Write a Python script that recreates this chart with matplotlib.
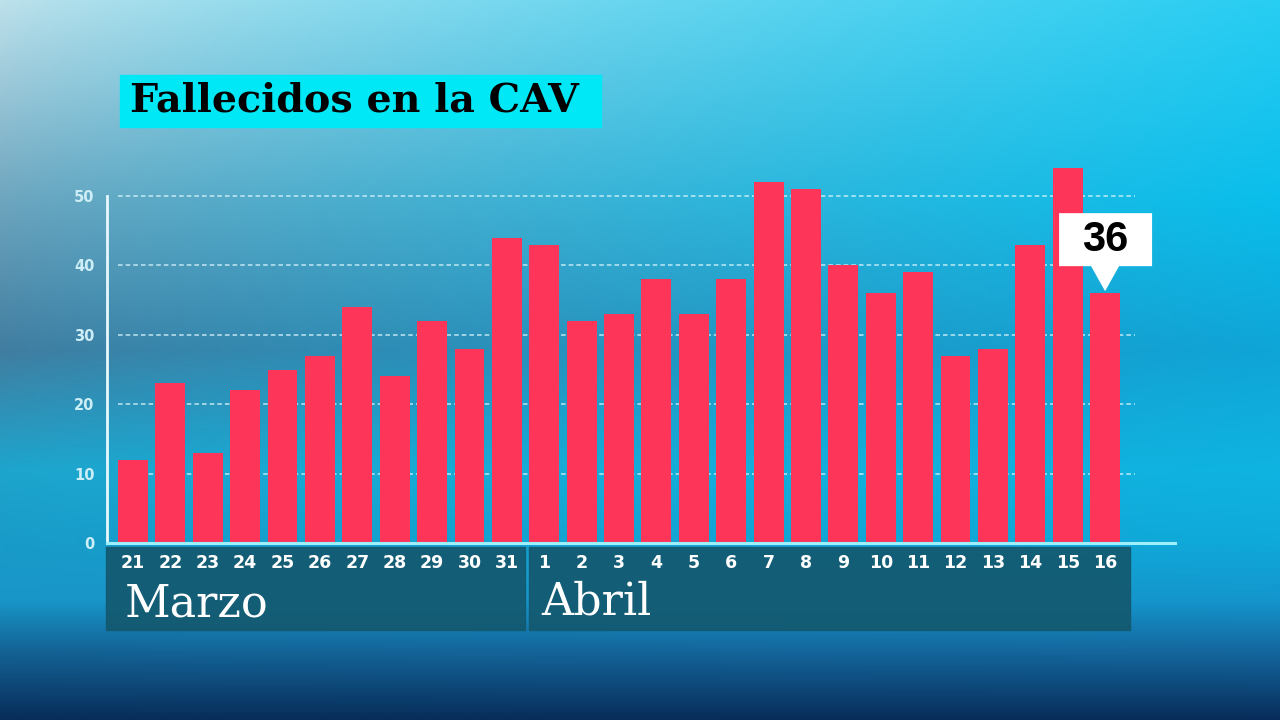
import numpy as np
import matplotlib
matplotlib.use("Agg")
import matplotlib.pyplot as plt
from matplotlib.patches import Rectangle, Polygon
from matplotlib.transforms import ScaledTranslation

# ---- data ----
days = ["21", "22", "23", "24", "25", "26", "27", "28", "29", "30", "31",
        "1", "2", "3", "4", "5", "6", "7", "8", "9", "10", "11", "12", "13", "14", "15", "16"]
deaths = [12, 23, 13, 22, 25, 27, 34, 24, 32, 28, 44,
          43, 32, 33, 38, 33, 38, 52, 51, 40, 36, 39, 27, 28, 43, 54, 36]
yticks = [0, 10, 20, 30, 40, 50]
months = ["Marzo", "Abril"]
title = "Fallecidos en la CAV"

W, H = 1280, 720
fig = plt.figure(figsize=(12.8, 7.2), dpi=100)

# ---- background gradient ----
bg = fig.add_axes([0, 0, 1, 1], zorder=-10)
ys = np.array([0, 200, 350, 470, 540, 600, 650, 720]) / 720
left = np.array([(190, 225, 235), (110, 165, 190), (65, 125, 160), (30, 165, 205),
                 (25, 155, 200), (25, 150, 200), (20, 100, 150), (8, 45, 90)]) / 255
right = np.array([(40, 205, 242), (10, 190, 235), (15, 165, 215), (15, 180, 225),
                  (15, 170, 218), (20, 150, 205), (20, 105, 160), (8, 45, 90)]) / 255
yy = np.linspace(0, 1, 360)
L = np.stack([np.interp(yy, ys, left[:, c]) for c in range(3)], axis=-1)
R = np.stack([np.interp(yy, ys, right[:, c]) for c in range(3)], axis=-1)
xx = np.linspace(0, 1, 320)[None, :, None] ** 0.8
img = L[:, None, :] * (1 - xx) + R[:, None, :] * xx
bg.imshow(img, extent=[0, 1, 0, 1], aspect="auto", origin="upper")
bg.axis("off")

# ---- main axes ----
x0, x1 = 107 / W, 1175 / W
y0 = (H - 543) / H
ymax = 56
ytop = 543 - ymax * 6.94
ax = fig.add_axes([x0, y0, x1 - x0, (543 - ytop) / H])
ax.patch.set_alpha(0)
n = len(deaths)
xs = np.arange(n)
ax.set_xlim(-0.695, n - 1 + 1.87)
ax.set_ylim(0, ymax)

ax.hlines(yticks[1:], -0.4, n - 1 + 0.8, colors="#d8f4fb", linestyles=(0, (3, 2)),
          linewidth=1.1, alpha=0.85, zorder=1)
ax.bar(xs, deaths, width=0.8, color="#fd3558", zorder=2)

for s in ["top", "right"]:
    ax.spines[s].set_visible(False)
ax.spines["left"].set_bounds(0, 50)
ax.spines["left"].set_color("#e6f8fc")
ax.spines["left"].set_linewidth(2)
ax.spines["bottom"].set_color("#9ff0ff")
ax.spines["bottom"].set_linewidth(2.2)

ax.set_yticks(yticks)
ax.set_yticklabels([str(v) for v in yticks], color="#cdeef7", fontsize=10.5,
                   fontweight="bold")
ax.tick_params(axis="y", length=0, pad=9)
ax.set_xticks(xs)
ax.set_xticklabels(days, color="white", fontsize=12.5, fontweight="bold")
ax.tick_params(axis="x", length=0, pad=8)

# ---- month boxes ----
box_col = "#13596f"
fig.patches.append(Rectangle((106 / W, 90 / H), (525 - 106) / W, 83 / H,
                             transform=fig.transFigure, color=box_col, alpha=0.92, zorder=-1))
fig.patches.append(Rectangle((529 / W, 90 / H), (1130 - 529) / W, 83 / H,
                             transform=fig.transFigure, color=box_col, alpha=0.92, zorder=-1))
fig.text(125 / W, (H - 604) / H, months[0], fontsize=32, color="white",
         family="DejaVu Serif", va="center", ha="left")
fig.text(541 / W, (H - 602) / H, months[1], fontsize=32, color="white",
         family="DejaVu Serif", va="center", ha="left")

# ---- title ----
fig.patches.append(Rectangle((120 / W, (H - 127) / H), (601 - 120) / W, 52 / H,
                             transform=fig.transFigure, color="#00e8f6", zorder=-1))
fig.text(130 / W, (H - 101) / H, title, fontsize=28.5, fontweight="bold",
         family="DejaVu Serif", color="black", ha="left", va="center")

# ---- callout on last bar ----
last_i, last_v = n - 1, deaths[-1]
tr = fig.dpi_scale_trans + ScaledTranslation(last_i, last_v, ax.transData)
poly = Polygon([(-0.46, 0.27), (-0.14, 0.27), (0, 0.02), (0.14, 0.27), (0.47, 0.27),
                (0.47, 0.80), (-0.46, 0.80)], closed=True, facecolor="white",
               edgecolor="none", transform=tr, zorder=5, clip_on=False)
ax.add_patch(poly)
ax.text(0.0, 0.535, str(last_v), transform=tr, fontsize=30, fontweight="bold",
        family="Liberation Sans", color="black", ha="center", va="center", zorder=6)

fig.savefig("out.png", dpi=100)
